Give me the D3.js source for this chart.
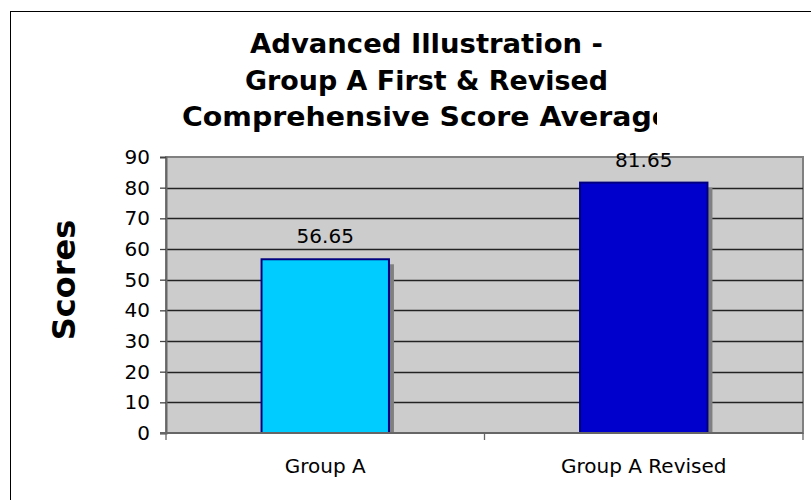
<!DOCTYPE html>
<html>
<head>
<meta charset="utf-8">
<script src="https://cdn.jsdelivr.net/npm/d3@7"></script>
<style>
  body { margin: 0; background: #fff; }
  text { font-family: "DejaVu Sans", Verdana, sans-serif; fill: #000; }
</style>
</head>
<body>
<div class="chart"></div>
<script>
// chart data
var categories = ["Group A", "Group A Revised"];
var scores = [56.65, 81.65];
var barColors = ["#00ccff", "#0000cc"];
var yTicks = [0, 10, 20, 30, 40, 50, 60, 70, 80, 90];
var titleLines = ["Advanced Illustration -", "Group A First & Revised", "Comprehensive Score Average"];
var titleWidths = [353, 363, 489];

var width = 811, height = 500;
var plot = {left: 166, right: 803, top: 157, bottom: 433};

var svg = d3.select(".chart")
            .append("svg")
            .attr("width", width)
            .attr("height", height);

// outer chart border (runs off the page on the right and bottom)
svg.append("rect")
   .attr("x", 10.5)
   .attr("y", 11.5)
   .attr("width", 900)
   .attr("height", 600)
   .attr("fill", "none")
   .attr("stroke", "#000")
   .attr("stroke-width", 1);

// title, last line clipped like in the original
svg.append("defs").append("clipPath")
   .attr("id", "titleClip")
   .append("rect")
   .attr("x", 0).attr("y", 0)
   .attr("width", 657).attr("height", 140);

svg.append("g")
   .attr("clip-path", "url(#titleClip)")
   .selectAll("text")
   .data(titleLines)
   .enter()
   .append("text")
   .attr("x", 426.5)
   .attr("y", function(d, i) { return 53 + i * 36.5; })
   .attr("text-anchor", "middle")
   .attr("textLength", function(d, i) { return titleWidths[i]; })
   .attr("lengthAdjust", "spacingAndGlyphs")
   .style("font-size", "27px")
   .style("font-weight", "bold")
   .text(function(d) { return d; });

// scales
var x = d3.scaleBand()
          .domain(categories)
          .range([plot.left, plot.right])
          .padding(0);

var y = d3.scaleLinear()
          .domain([0, 90])
          .range([plot.bottom, plot.top]);

var barW = x.bandwidth() * 0.4;

// plot background
svg.append("rect")
   .attr("x", plot.left)
   .attr("y", plot.top)
   .attr("width", plot.right - plot.left)
   .attr("height", plot.bottom - plot.top)
   .attr("fill", "#cccccc")
   .attr("stroke", "#808080")
   .attr("stroke-width", 2);

// gridlines
svg.append("g")
   .selectAll("line")
   .data(yTicks.filter(function(t) { return t > 0 && t < 90; }))
   .enter()
   .append("line")
   .attr("x1", plot.left)
   .attr("x2", plot.right)
   .attr("y1", function(d) { return Math.round(y(d)) + 0.5; })
   .attr("y2", function(d) { return Math.round(y(d)) + 0.5; })
   .attr("stroke", "#222")
   .attr("stroke-width", 1.3);

// clip for the shadows
svg.select("defs").append("clipPath")
   .attr("id", "plotClip")
   .append("rect")
   .attr("x", plot.left)
   .attr("y", plot.top)
   .attr("width", plot.right - plot.left)
   .attr("height", plot.bottom - plot.top);

// bar shadows
svg.append("g")
   .attr("clip-path", "url(#plotClip)")
   .selectAll("rect")
   .data(scores)
   .enter()
   .append("rect")
   .attr("x", function(d, i) { return x(categories[i]) + (x.bandwidth() - barW) / 2 + 5; })
   .attr("y", function(d) { return y(d) + 5; })
   .attr("width", barW)
   .attr("height", function(d) { return plot.bottom - y(d); })
   .attr("fill", "#808080");

// bars
svg.append("g")
   .selectAll("rect")
   .data(scores)
   .enter()
   .append("rect")
   .attr("x", function(d, i) { return x(categories[i]) + (x.bandwidth() - barW) / 2; })
   .attr("y", function(d) { return y(d); })
   .attr("width", barW)
   .attr("height", function(d) { return plot.bottom - y(d); })
   .attr("fill", function(d, i) { return barColors[i]; })
   .attr("stroke", "#000080")
   .attr("stroke-width", 2);

// data labels
svg.append("g")
   .selectAll("text")
   .data(scores)
   .enter()
   .append("text")
   .attr("x", function(d, i) { return x(categories[i]) + x.bandwidth() / 2; })
   .attr("y", function(d) { return y(d) - 16; })
   .attr("text-anchor", "middle")
   .style("font-size", "20px")
   .text(function(d) { return d3.format(".2f")(d); });

// y axis
var yAxis = d3.axisLeft(y)
              .tickValues(yTicks)
              .tickSize(6)
              .tickPadding(10);

var gy = svg.append("g")
            .attr("transform", "translate(" + plot.left + ",0)")
            .call(yAxis);
gy.select(".domain").attr("stroke", "#666").attr("stroke-width", 2);
gy.selectAll(".tick line").attr("stroke", "#444").attr("stroke-width", 1.3);
gy.selectAll(".tick text")
  .style("font-size", "20px")
  .style("font-family", "'DejaVu Sans', Verdana, sans-serif")
  .attr("fill", "#000");

// x axis: ticks sit on the band edges
var xEdges = d3.scaleLinear().domain([0, 2]).range([plot.left, plot.right]);
var gx = svg.append("g")
            .attr("transform", "translate(0," + plot.bottom + ")");
gx.append("line")
  .attr("x1", plot.left - 6)
  .attr("x2", plot.right)
  .attr("y1", 0).attr("y2", 0)
  .attr("stroke", "#666")
  .attr("stroke-width", 2);
gx.selectAll(".edge")
  .data([0, 1, 2])
  .enter()
  .append("line")
  .attr("class", "edge")
  .attr("x1", function(d) { return xEdges(d); })
  .attr("x2", function(d) { return xEdges(d); })
  .attr("y1", 0).attr("y2", 7)
  .attr("stroke", "#666")
  .attr("stroke-width", 1.3);
gx.selectAll(".cat")
  .data(categories)
  .enter()
  .append("text")
  .attr("class", "cat")
  .attr("x", function(d) { return x(d) + x.bandwidth() / 2; })
  .attr("y", 40)
  .attr("text-anchor", "middle")
  .style("font-size", "20px")
  .text(function(d) { return d; });

// y axis title
svg.append("text")
   .attr("transform", "translate(75,280) rotate(-90)")
   .attr("text-anchor", "middle")
   .style("font-size", "32px")
   .style("font-weight", "bold")
   .text("Scores");
</script>
</body>
</html>
